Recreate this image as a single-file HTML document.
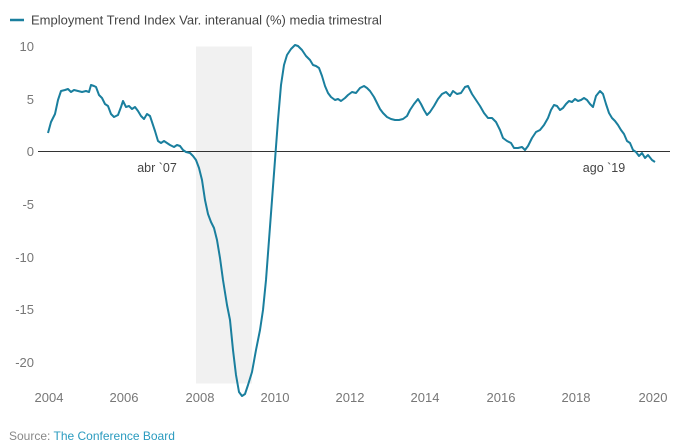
<!DOCTYPE html>
<html><head><meta charset="utf-8"><style>
body{margin:0;background:#fff;}
svg{display:block;font-family:"Liberation Sans",sans-serif;}
</style></head><body>
<svg width="680" height="448" viewBox="0 0 680 448">
<line x1="10" y1="20" x2="24" y2="20" stroke="#1a7f9e" stroke-width="2.5"/>
<text x="31" y="24.5" font-size="13" fill="#444">Employment Trend Index Var. interanual (%) media trimestral</text>
<rect x="196" y="46.5" width="56" height="337" fill="#f1f1f1"/>
<g font-size="13" fill="#777" text-anchor="end">
<text x="34" y="51">10</text><text x="34" y="104">5</text><text x="34" y="156">0</text>
<text x="34" y="209">-5</text><text x="34" y="262">-10</text><text x="34" y="314">-15</text><text x="34" y="367">-20</text>
</g>
<g font-size="13" fill="#777" text-anchor="middle">
<text x="49" y="402">2004</text><text x="124" y="402">2006</text><text x="200" y="402">2008</text>
<text x="275" y="402">2010</text><text x="350" y="402">2012</text><text x="425" y="402">2014</text>
<text x="501" y="402">2016</text><text x="576" y="402">2018</text><text x="653" y="402">2020</text>
</g>
<line x1="38" y1="151.5" x2="670" y2="151.5" stroke="#333" stroke-width="1"/>
<text x="157" y="172" font-size="12.5" fill="#444" text-anchor="middle">abr `07</text>
<text x="604" y="172" font-size="12.5" fill="#444" text-anchor="middle">ago `19</text>
<polyline fill="none" stroke="#1a7f9e" stroke-width="2" stroke-linejoin="round" points="48,133 51,122 55,114 58,100 61,91 65,90 68,89 71,92 74,90 78,91 82,92 86,91 89,92 91,85 94,86 96,87 99,95 102,98 105,104 108,106 111,114 114,117 118,115 121,107 123,101 126,107 129,106 132,109 135,107 138,111 141,116 144,119 147,114 150,116 152,122 155,131 158,141 161,143 164,141 167,143 170,145 174,147 177,145 180,146 183,150 186,152 190,153 193,156 196,160 199,168 202,180 205,200 208,214 211,222 214,228 217,240 220,258 223,280 227,305 230,320 233,350 236,375 239,392 242,396 245,394 248,385 252,372 256,350 260,330 263,310 266,280 269,240 272,200 275,160 278,120 281,85 284,65 287,55 291,49 295,45 298,46 302,50 306,56 310,60 313,65 316,66 319,68 322,76 325,86 328,93 331,97 335,100 338,99 341,101 345,98 348,95 352,92 356,93 360,88 364,86 367,88 370,91 374,97 377,103 380,109 383,113 387,117 391,119 395,120 399,120 403,119 407,116 410,110 414,104 418,99 421,104 424,110 427,115 430,112 434,106 438,99 442,94 446,92 450,96 453,91 457,94 461,93 465,87 468,86 472,94 476,100 480,106 484,113 488,118 492,118 496,122 500,130 503,138 507,141 511,143 514,148 518,148 522,147 525,150 528,146 532,138 536,132 540,130 544,125 548,118 551,110 554,105 557,106 560,110 563,108 566,104 569,101 572,102 575,99 578,101 581,100 584,98 587,100 590,104 593,107 596,96 600,91 603,94 606,104 609,113 612,118 615,121 618,125 621,130 624,134 627,141 630,143 633,150 636,152 639,156 642,153 645,158 648,155 652,160 655,162"/>
<text x="9" y="440" font-size="12" fill="#888">Source: <tspan fill="#2a9bbf">The Conference Board</tspan></text>
</svg>
</body></html>
